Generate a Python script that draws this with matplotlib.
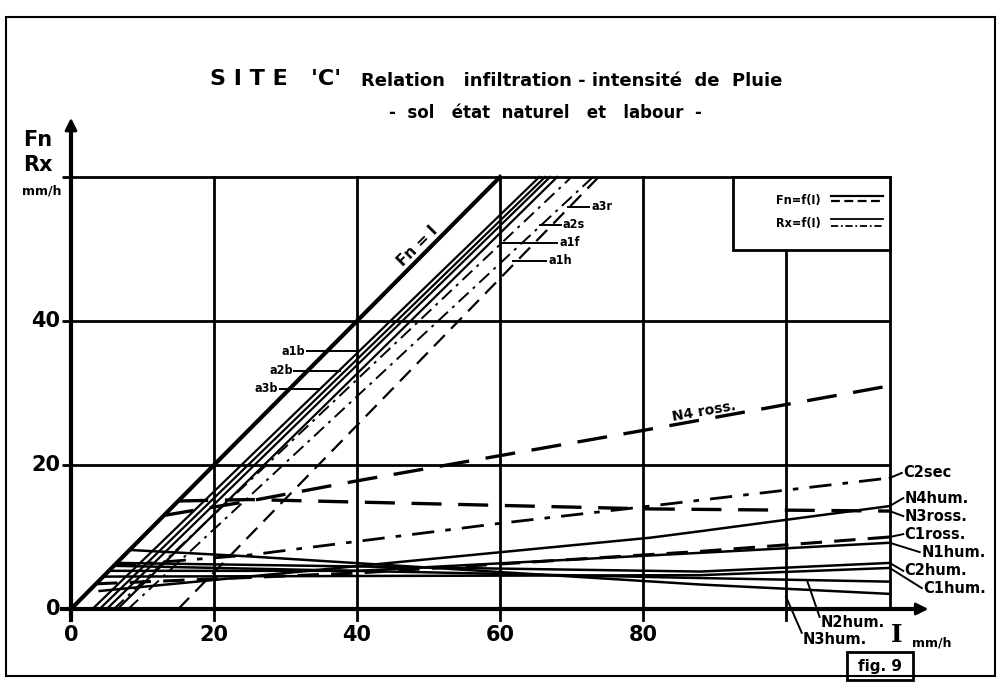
import matplotlib
matplotlib.use('Agg')
import matplotlib.pyplot as plt
from matplotlib.patches import Rectangle

W, H = 1004, 683
fig = plt.figure(figsize=(W / 100, H / 100), dpi=100)

# origin in pixels and pixels per mm/h
x0, y0 = 71, 609
sx, sy = 7.15, 7.2
xmax, ymax = 120.3, 68.6
ax = fig.add_axes([x0 / W, 1 - y0 / H, xmax * sx / W, ymax * sy / H])
ax.set_xlim(0, xmax)
ax.set_ylim(0, ymax)
ax.axis('off')

def fx(px):
    return px / W

def fy(py):
    return 1 - py / H

# ---- data (I in mm/h, Fn / Rx in mm/h) ----
x_ticks = [0, 20, 40, 60, 80]
y_ticks = [0, 20, 40]
x_grid = [20, 40, 60, 80, 100]
y_grid = [20, 40, 60]
i_end = 114.5

fn_eq_i_I = [0, 60]
fn_eq_i_F = [0, 60]

# steep Fn curves (labour)
a1b_I = [3.0, 65.5]
a1b_F = [0, 60]
a2b_I = [4.0, 66.3]
a2b_F = [0, 60]
a3b_I = [5.0, 67.0]
a3b_F = [0, 60]
a4b_I = [6.5, 68.0]
a4b_F = [0, 60]

# steep Rx curves
a2s_I = [8.0, 73.0]
a2s_F = [0, 60]
a3r_I = [15.0, 73.8]
a3r_F = [0, 60]
a1f_I = [6.0, 70.0]
a1f_F = [0, 60]

# flat curves (sol naturel)
c2sec_I = [6, 25, 60, 81, 114.5]
c2sec_F = [6, 7.5, 11.9, 14.3, 18.2]
n4ross_I = [13, 25, 40, 60, 80, 114.5]
n4ross_F = [13, 15, 17.8, 21.3, 24.8, 31]
n3ross_I = [15, 25, 81, 114.5]
n3ross_F = [15, 15.2, 13.9, 13.6]
n4hum_I = [4, 39.4, 81, 88, 114.5]
n4hum_F = [2.5, 5.9, 9.9, 10.8, 14.3]
c1ross_I = [3.5, 40, 88, 114.5]
c1ross_F = [3.5, 5.0, 8.0, 10.0]
n1hum_I = [5.3, 40, 88, 114.5]
n1hum_F = [5.3, 5.3, 7.8, 9.2]
c2hum_I = [6.4, 88, 114.5]
c2hum_F = [6.4, 5.2, 6.4]
c1hum_I = [4.5, 88, 114.5]
c1hum_F = [4.5, 4.7, 5.7]
n2hum_I = [6, 88, 114.5]
n2hum_F = [6, 4.3, 3.8]
n3hum_I = [8.2, 25, 88, 114.5]
n3hum_F = [8.2, 7.3, 3.4, 2.1]

K = 'black'
DASH = (0, (7, 4))
DASHDOT = (0, (7, 3, 1.5, 3))

# ---- grid and axes ----
for g in y_grid:
    ax.plot([-1.2, i_end], [g, g], color=K, lw=2, solid_capstyle='butt', clip_on=False)
for g in x_grid:
    top = 49.8 if g == 100 else 60
    ax.plot([g, g], [-1.5, top], color=K, lw=2, clip_on=False)
ax.plot([i_end, i_end], [0, 60], color=K, lw=2)
ax.plot([-1.2, 118], [0, 0], color=K, lw=3, clip_on=False)
ax.annotate('', xy=(120.3, 0), xytext=(116, 0),
            arrowprops=dict(arrowstyle='-|>', color=K, lw=2, mutation_scale=18))
ax.plot([0, 0], [-1.5, 66], color=K, lw=3, clip_on=False)
ax.annotate('', xy=(0, 68.6), xytext=(0, 64),
            arrowprops=dict(arrowstyle='-|>', color=K, lw=2, mutation_scale=18))

tick_font = dict(fontsize=15, fontweight='bold', color=K)
for t in x_ticks:
    ax.text(t, -3.6, str(t), ha='center', va='center', **tick_font)
for t in y_ticks:
    ax.text(-1.5, t, str(t), ha='right', va='center', **tick_font)

# ---- curves ----
ax.plot(fn_eq_i_I, fn_eq_i_F, color=K, lw=3)
for xs, ys in [(a1b_I, a1b_F), (a2b_I, a2b_F), (a3b_I, a3b_F), (a4b_I, a4b_F)]:
    ax.plot(xs, ys, color=K, lw=1.6)
ax.plot(a2s_I, a2s_F, color=K, lw=1.4, linestyle=DASHDOT)
ax.plot(a1f_I, a1f_F, color=K, lw=1.4, linestyle=DASHDOT)
ax.plot(a3r_I, a3r_F, color=K, lw=1.6, linestyle=DASH)

ax.plot(c2sec_I, c2sec_F, color=K, lw=2, linestyle=(0, (8, 4, 2, 4)))
ax.plot(n4ross_I, n4ross_F, color=K, lw=2.4, linestyle=(0, (9, 5)))
ax.plot(n3ross_I, n3ross_F, color=K, lw=2.4, linestyle=(0, (9, 5)))
ax.plot(c1ross_I, c1ross_F, color=K, lw=2.2, linestyle=(0, (7, 4)))
for xs, ys in [(n4hum_I, n4hum_F), (n1hum_I, n1hum_F), (c2hum_I, c2hum_F),
               (c1hum_I, c1hum_F), (n2hum_I, n2hum_F), (n3hum_I, n3hum_F)]:
    ax.plot(xs, ys, color=K, lw=1.8)

# ---- curve labels ----
lab = dict(fontsize=9, fontweight='bold', color=K, fontstretch='condensed')
ax.text(48.4, 50.4, 'Fn = I', rotation=45, ha='center', va='center', fontsize=11,
        fontweight='bold')
for name, xl, yl, xe in [('a1b', 32.0, 35.8, 40.1), ('a2b', 30.2, 33.1, 37.6),
                         ('a3b', 28.2, 30.6, 34.8)]:
    ax.plot([xl + 1.0, xe], [yl, yl], color=K, lw=1.4)
    ax.text(xl + 0.8, yl, name, ha='right', va='center', **lab)
for name, xs, y, xe in [('a3r', 69.5, 55.9, 72.5), ('a2s', 65.6, 53.4, 68.5),
                        ('a1f', 60.0, 50.9, 68.0), ('a1h', 61.8, 48.4, 66.5)]:
    ax.plot([xs, xe], [y, y], color=K, lw=1.4)
    ax.text(xe + 0.3, y, name, ha='left', va='center', **lab)

ax.text(88.5, 27.4, 'N4 ross.', rotation=10, ha='center', va='center', fontsize=10,
        fontweight='bold')

rlab = dict(fontsize=10.5, fontweight='bold', color=K)
right_labels = [('C2sec', 18.2, 18.9, 116.2), ('N4hum.', 14.3, 15.4, 116.4),
                ('N3ross.', 13.6, 12.9, 116.4), ('C1ross.', 10.0, 10.4, 116.4),
                ('N1hum.', 9.2, 7.9, 118.7), ('C2hum.', 6.4, 5.3, 116.4),
                ('C1hum.', 5.7, 2.9, 119.0)]
for name, ye, yl, xl in right_labels:
    ax.plot([i_end, xl], [ye, yl], color=K, lw=1.4, clip_on=False)
    ax.text(xl + 0.2, yl, name, ha='left', va='center', clip_on=False, **rlab)
ax.plot([103.0, 104.7], [3.8, -1.1], color=K, lw=1.4, clip_on=False)
ax.text(104.8, -1.9, 'N2hum.', ha='left', va='center', **rlab)
ax.plot([100.0, 102.2], [1.7, -3.3], color=K, lw=1.4, clip_on=False)
ax.text(102.3, -4.3, 'N3hum.', ha='left', va='center', **rlab)

# ---- legend box ----
ax.add_patch(Rectangle((92.6, 49.8), 22.0, 10.2, facecolor='white', edgecolor=K,
                       lw=2, zorder=5))
ax.text(104.8, 56.8, 'Fn=f(I)', ha='right', va='center', zorder=6, **lab)
ax.text(104.8, 53.6, 'Rx=f(I)', ha='right', va='center', zorder=6, **lab)
ax.plot([106.3, 113.5], [57.4, 57.4], color=K, lw=1.6, zorder=6)
ax.plot([106.3, 113.5], [56.6, 56.6], color=K, lw=1.6, linestyle=(0, (4, 2)), zorder=6)
ax.plot([106.3, 113.5], [54.1, 54.1], color=K, lw=1.3, zorder=6)
ax.plot([106.3, 113.5], [53.2, 53.2], color=K, lw=1.3, linestyle=(0, (4, 1.5, 1, 1.5)), zorder=6)

# ---- titles and axis names ----
fig.text(fx(276), fy(79), "S I T E   'C'", fontsize=16, fontweight='bold', ha='center', va='center')
fig.text(fx(572), fy(81), 'Relation   infiltration - intensité  de  Pluie', fontsize=13,
         fontweight='bold', ha='center', va='center')
fig.text(fx(545), fy(113), '-  sol   état  naturel   et   labour  -', fontsize=12,
         fontweight='bold', ha='center', va='center')
fig.text(fx(23), fy(140), 'Fn', fontsize=15, fontweight='bold', ha='left', va='center')
fig.text(fx(23), fy(165), 'Rx', fontsize=15, fontweight='bold', ha='left', va='center')
fig.text(fx(22), fy(191), 'mm/h', fontsize=9, fontweight='bold', ha='left', va='center')
fig.text(fx(897), fy(635), 'I', fontsize=18, fontweight='bold', ha='center', va='center',
         family='DejaVu Serif')
fig.text(fx(912), fy(643), 'mm/h', fontsize=9, fontweight='bold', ha='left', va='center')

fig.patches.append(Rectangle((fx(847), fy(680)), fx(66), 28 / H, transform=fig.transFigure,
                             facecolor='white', edgecolor=K, lw=2))
fig.text(fx(880), fy(667), 'fig. 9', fontsize=11, fontweight='bold', ha='center', va='center')

# outer frame
fig.patches.append(Rectangle((fx(6), fy(676)), fx(989), 659 / H, transform=fig.transFigure,
                             fill=False, edgecolor=K, lw=1.5))

fig.savefig('out.png', dpi=100, facecolor='white')
